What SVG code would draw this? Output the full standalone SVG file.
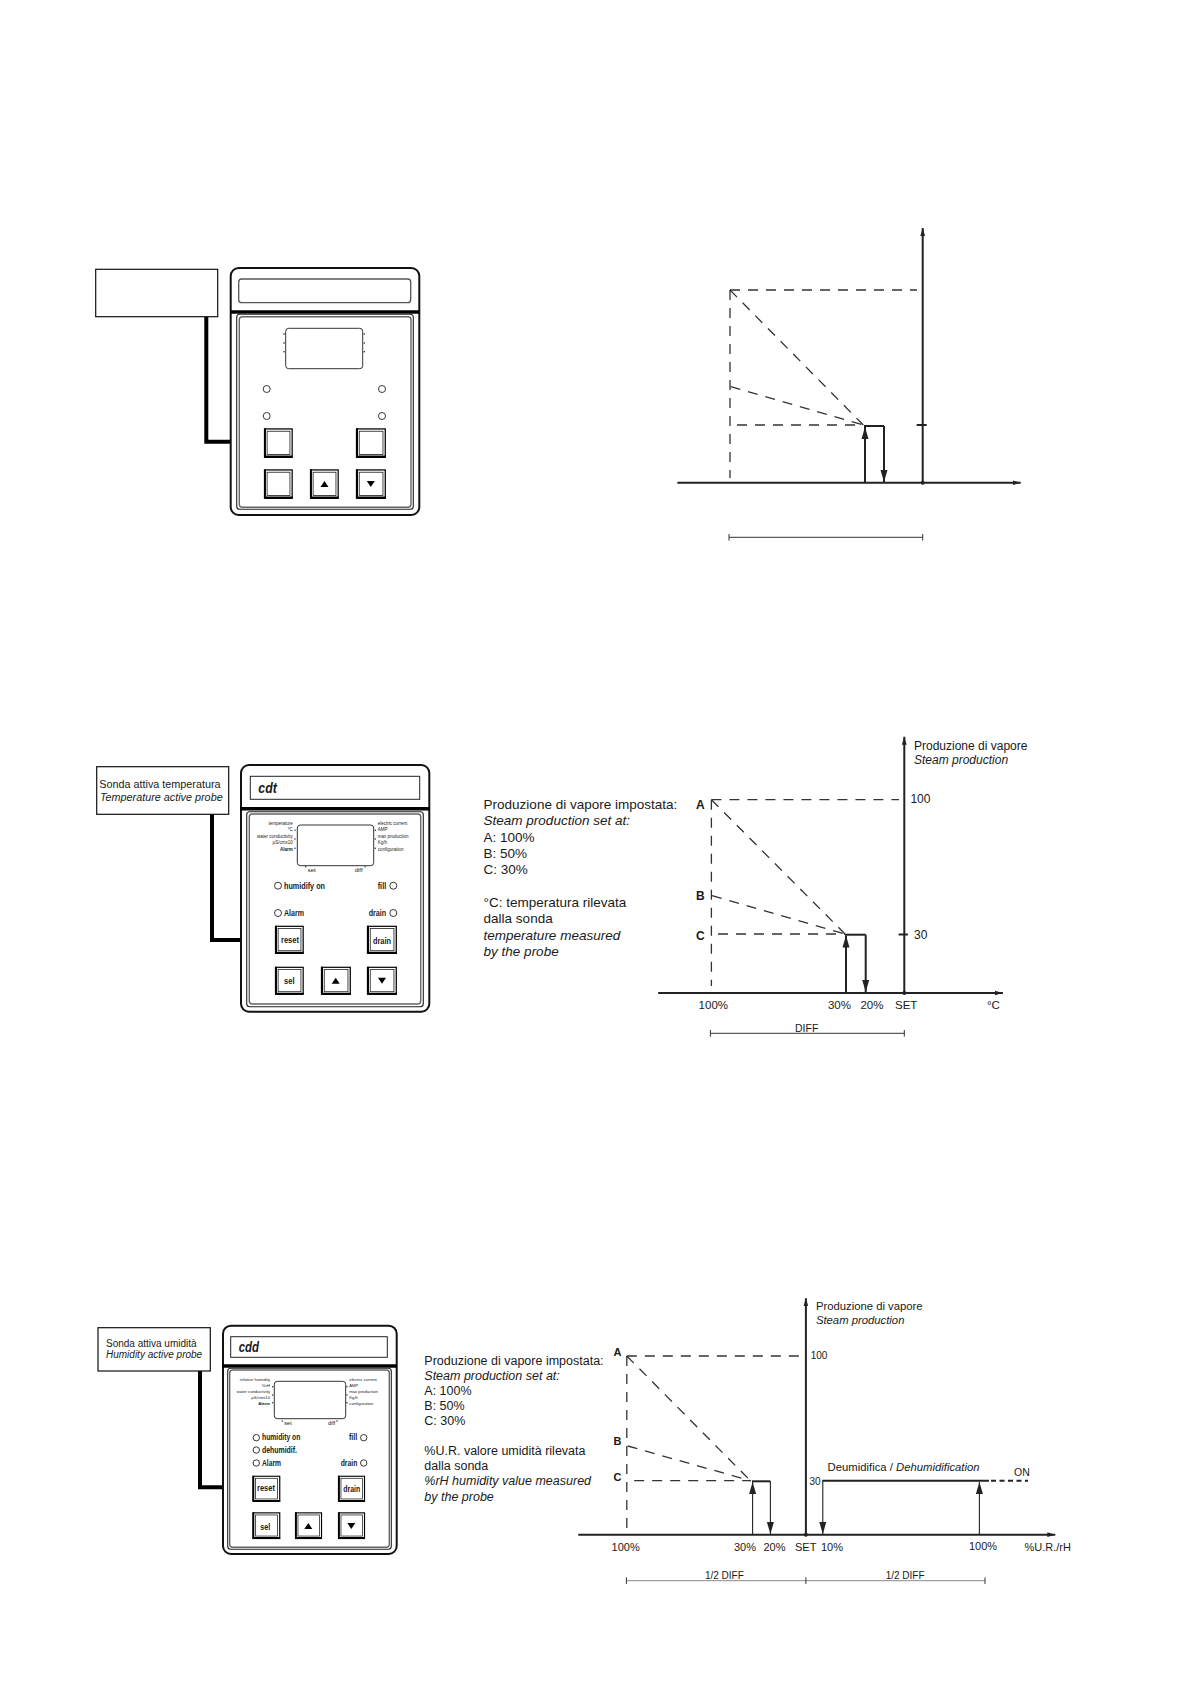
<svg xmlns="http://www.w3.org/2000/svg" xmlns:xlink="http://www.w3.org/1999/xlink" width="1190" height="1684" viewBox="0 0 1190 1684">
<style>
text{font-family:"Liberation Sans",Arial,sans-serif;fill:#1a1a1a}
.i{font-style:italic}
.b{font-weight:bold}
.box{fill:#fff;stroke:#111;stroke-width:1.2}
.cable{fill:none;stroke:#000;stroke-width:4}
.case{fill:#fff;stroke:#111;stroke-width:2}
.bar{stroke:#000;stroke-width:3.6}
.name{fill:#fff;stroke:#222;stroke-width:1}
.name1{fill:#fff;stroke:#555;stroke-width:1.3}
.p1{fill:none;stroke:#222;stroke-width:1.1}
.p2{fill:none;stroke:#666;stroke-width:1.4}
.disp{fill:#fff;stroke:#333;stroke-width:1}
.led{fill:#fff;stroke:#222;stroke-width:.9}
.dot{fill:#222}
.axis{fill:none;stroke:#222;stroke-width:2}
.solid{fill:none;stroke:#222;stroke-width:2}
.thin{fill:none;stroke:#222;stroke-width:1.1}
.dash{fill:none;stroke:#333;stroke-width:1.3;stroke-dasharray:10 8}
.dim{fill:none;stroke:#333;stroke-width:1}
.dimg{fill:none;stroke:#888;stroke-width:1}
.s2{font-size:4.5px}
.s3{font-size:4.2px}
.e{text-anchor:end}
.m{text-anchor:middle}
</style>
<defs>
<marker id="head" markerUnits="userSpaceOnUse" markerWidth="13" markerHeight="9" refX="12" refY="4.5" orient="auto"><path d="M0 1 L12 4.5 L0 8 Z" fill="#222"/></marker>
<marker id="ax" markerUnits="userSpaceOnUse" markerWidth="9" markerHeight="6" refX="8" refY="3" orient="auto"><path d="M0 .6 L8 3 L0 5.4 Z" fill="#222"/></marker>
<g id="btn"><rect x=".6" y=".6" width="27" height="27" fill="#fff" stroke="#000" stroke-width="1.2"/><rect x="2.8" y="2.8" width="22.6" height="22.2" fill="#fff" stroke="#222" stroke-width=".8"/><path d="M.6 0V28M0 27H28" fill="none" stroke="#000" stroke-width="2"/></g>
<path id="up" d="M-4 3 L0 -3 L4 3 Z" fill="#000"/>
<path id="dn" d="M-4 -3 L0 3 L4 -3 Z" fill="#000"/>
</defs>

<g id="connectors">
<path class="cable" d="M206.3 316.7V441.7H231"/>
<path class="cable" d="M212 814.3V940H241"/>
<path class="cable" d="M200 1371V1487.3H223"/>
</g>

<g id="probe-box-1"><rect class="box" x="95.7" y="269.3" width="122" height="47.4"/></g>

<g id="controller-1">
<rect class="case" x="230.7" y="268" width="188.6" height="247" rx="8"/>
<rect class="name1" x="238.7" y="279" width="172" height="23.7" rx="3"/>
<path class="bar" d="M230 312H420"/>
<rect class="p1" x="236.7" y="314.3" width="176.6" height="195" rx="3"/>
<rect class="p2" x="239.3" y="316.7" width="171.7" height="190.6" rx="3"/>
<rect class="disp" x="285.7" y="328.3" width="77" height="40.4" rx="3"/>
<g class="dot"><circle cx="284" cy="334" r=".8"/><circle cx="284" cy="343" r=".8"/><circle cx="284" cy="351.7" r=".8"/><circle cx="364.3" cy="334" r=".8"/><circle cx="364.3" cy="343" r=".8"/><circle cx="364.3" cy="351.7" r=".8"/></g>
<circle class="led" cx="266.7" cy="389" r="3.5"/><circle class="led" cx="382" cy="389" r="3.5"/><circle class="led" cx="266.7" cy="416" r="3.5"/><circle class="led" cx="382" cy="416" r="3.5"/>
<use xlink:href="#btn" transform="translate(264.3 428.3) scale(1.01 1.05)"/>
<use xlink:href="#btn" transform="translate(356.3 428.3) scale(1.05)"/>
<use xlink:href="#btn" transform="translate(264.3 469.3) scale(1.01 1.05)"/>
<use xlink:href="#btn" transform="translate(310.3 469.3) scale(1.01 1.05)"/>
<use xlink:href="#btn" transform="translate(356.3 469.3) scale(1.05)"/>
<use xlink:href="#up" x="324.5" y="484"/>
<use xlink:href="#dn" x="370.8" y="484"/>
</g>

<g id="chart-1">
<path class="axis" marker-end="url(#ax)" d="M677.3 482.7H1020.7"/>
<path class="axis" marker-end="url(#ax)" d="M922.7 482.7V228"/>
<circle class="dot" cx="922.7" cy="482.7" r="2"/>
<path class="solid" d="M916.7 425H926.7"/>
<path class="dash" d="M730 290H917"/>
<path class="dash" d="M730 290V478"/>
<path class="dash" d="M730 290L863.3 425"/>
<path class="dash" d="M730.7 386.7L863.3 425"/>
<path class="dash" d="M737 425H863"/>
<path class="solid" marker-end="url(#head)" d="M865 482.7V427"/>
<path class="solid" d="M864 426H884"/>
<path class="solid" marker-end="url(#head)" d="M884 426V482"/>
<path class="dim" d="M729 537.3H922.7M729 534V540.6M922.7 534V540.6"/>
</g>

<g id="probe-box-2">
<rect class="box" x="96.7" y="766.7" width="132" height="47.6"/>
<text x="99.3" y="787.7" font-size="10.8">Sonda attiva temperatura</text>
<text x="100" y="800.7" font-size="10.8" class="i">Temperature active probe</text>
</g>

<g id="controller-2">
<rect class="case" x="241" y="765" width="188.3" height="246.7" rx="8"/>
<rect class="name" x="250.3" y="776.3" width="169.4" height="23"/>
<text x="258.3" y="793" font-size="14" class="b i" textLength="18.5" lengthAdjust="spacingAndGlyphs">cdt</text>
<path class="bar" d="M240 808.7H430"/>
<rect class="p1" x="246.7" y="811.7" width="176.6" height="195" rx="3"/>
<rect class="p2" x="249.3" y="814" width="171.4" height="190" rx="3"/>
<rect class="disp" x="297.3" y="825" width="76.4" height="40.7" rx="3"/>
<g class="dot"><circle cx="295" cy="830.3" r=".7"/><circle cx="295" cy="839" r=".7"/><circle cx="295" cy="848.3" r=".7"/><circle cx="375.3" cy="830.3" r=".7"/><circle cx="375.3" cy="839" r=".7"/><circle cx="375.3" cy="848.3" r=".7"/><circle cx="305.7" cy="866.7" r=".7"/><circle cx="365" cy="866.7" r=".7"/></g>
<text class="s2 e" x="292.7" y="824.7">temperature</text>
<text class="s2 e" x="292.7" y="831">°C</text>
<text class="s2 e" x="292.7" y="837.7">water conductivity</text>
<text class="s2 e" x="292.7" y="844">µS/cmx10</text>
<text class="s2 e b" x="292.7" y="851">Alarm</text>
<text class="s2" x="377.7" y="824.7">electric current</text>
<text class="s2" x="377.7" y="831">AMP</text>
<text class="s2" x="377.7" y="837.7">max production</text>
<text class="s2" x="377.7" y="844">Kg/h</text>
<text class="s2" x="377.7" y="851">configuration</text>
<text x="307.7" y="871.7" font-size="6">set</text>
<text x="354.7" y="871.7" font-size="6">diff</text>
<circle class="led" cx="278" cy="885.7" r="3.5"/><circle class="led" cx="393.3" cy="885.7" r="3.5"/><circle class="led" cx="278" cy="913" r="3.5"/><circle class="led" cx="393.3" cy="913" r="3.5"/>
<text class="b" x="284" y="888.7" font-size="9" textLength="41" lengthAdjust="spacingAndGlyphs">humidify on</text>
<text class="b" x="377.7" y="888.7" font-size="9" textLength="8.5" lengthAdjust="spacingAndGlyphs">fill</text>
<text class="b" x="284" y="916" font-size="9" textLength="20" lengthAdjust="spacingAndGlyphs">Alarm</text>
<text class="b" x="368.7" y="916" font-size="9" textLength="17.5" lengthAdjust="spacingAndGlyphs">drain</text>
<use xlink:href="#btn" transform="translate(275.3 925.7) scale(1.01 1)"/>
<use xlink:href="#btn" transform="translate(367.3 925.7) scale(1.05 1)"/>
<use xlink:href="#btn" transform="translate(275.3 966.7) scale(1.01 1)"/>
<use xlink:href="#btn" transform="translate(321.3 966.7) scale(1.05 1)"/>
<use xlink:href="#btn" transform="translate(367.3 966.7) scale(1.05 1)"/>
<text class="b m" x="290" y="942.7" font-size="9" textLength="18" lengthAdjust="spacingAndGlyphs">reset</text>
<text class="b m" x="382" y="943.7" font-size="9" textLength="18" lengthAdjust="spacingAndGlyphs">drain</text>
<text class="b m" x="289.3" y="984" font-size="9" textLength="10.5" lengthAdjust="spacingAndGlyphs">sel</text>
<use xlink:href="#up" x="335.7" y="980.7"/>
<use xlink:href="#dn" x="382" y="980.7"/>
</g>

<g id="chart-2">
<path class="axis" marker-end="url(#ax)" d="M658.2 993H1002.9"/>
<path class="axis" marker-end="url(#ax)" d="M904.3 993V736.7"/>
<circle class="dot" cx="904.3" cy="993" r="2"/>
<path class="solid" d="M898.6 934.5H907.9"/>
<path class="dash" d="M711.4 799.7H899"/>
<path class="dash" d="M711.4 799.7V986"/>
<path class="dash" d="M711.4 799.7L845 934"/>
<path class="dash" d="M712 895.7L845 934"/>
<path class="dash" d="M718 934H845"/>
<path class="solid" marker-end="url(#head)" d="M846 993V935.5"/>
<path class="solid" d="M845 934.7H865.7"/>
<path class="solid" marker-end="url(#head)" d="M865.7 934.7V992"/>
<path class="dim" d="M710.4 1033.3H904.3M710.4 1030V1036.6M904.3 1030V1036.6"/>
<text x="914" y="750" font-size="12">Produzione di vapore</text>
<text x="914" y="764.3" font-size="12" class="i">Steam production</text>
<text x="910.4" y="803" font-size="12">100</text>
<text x="914" y="939" font-size="12">30</text>
<g font-size="13.5">
<text x="483.6" y="808.7">Produzione di vapore impostata:</text>
<text x="483.6" y="825" class="i">Steam production set at:</text>
<text x="483.6" y="841.7">A: 100%</text>
<text x="483.6" y="858">B: 50%</text>
<text x="483.6" y="874.3">C: 30%</text>
<text x="483.6" y="906.7">°C: temperatura rilevata</text>
<text x="483.6" y="923.3">dalla sonda</text>
<text x="483.6" y="939.7" class="i">temperature measured</text>
<text x="483.6" y="956" class="i">by the probe</text>
</g>
<g font-size="12" class="b">
<text x="696" y="809.3">A</text>
<text x="696" y="899.7">B</text>
<text x="696" y="939.7">C</text>
</g>
<g font-size="11.5">
<text x="698.6" y="1009.3">100%</text>
<text x="827.9" y="1009.3">30%</text>
<text x="860.4" y="1009.3">20%</text>
<text x="895" y="1009.3">SET</text>
<text x="987" y="1009.3">°C</text>
</g>
<text x="795" y="1031.7" font-size="10.5">DIFF</text>
</g>

<g id="probe-box-3">
<rect class="box" x="98" y="1327.7" width="112.3" height="43.3"/>
<text x="106" y="1346.7" font-size="10">Sonda attiva umidità</text>
<text x="106" y="1358.3" font-size="10" class="i">Humidity active probe</text>
</g>

<g id="controller-3">
<rect class="case" x="223" y="1325.7" width="173.7" height="228.3" rx="8"/>
<rect class="name" x="230.7" y="1336.7" width="156.6" height="20.6"/>
<text x="238.7" y="1352.3" font-size="14" class="b i" textLength="20.3" lengthAdjust="spacingAndGlyphs">cdd</text>
<path class="bar" d="M222 1366H397"/>
<rect class="p1" x="227.7" y="1368.3" width="163.6" height="181" rx="3"/>
<rect class="p2" x="229.7" y="1370" width="159.6" height="177.3" rx="3"/>
<rect class="disp" x="274.3" y="1381.3" width="71.4" height="37.4" rx="3"/>
<g class="dot"><circle cx="272.7" cy="1386.7" r=".7"/><circle cx="272.7" cy="1395" r=".7"/><circle cx="272.7" cy="1402.7" r=".7"/><circle cx="347" cy="1386.7" r=".7"/><circle cx="347" cy="1395" r=".7"/><circle cx="347" cy="1402.7" r=".7"/><circle cx="282.3" cy="1421" r=".7"/><circle cx="337" cy="1421" r=".7"/></g>
<text class="s3 e" x="270" y="1381">relative humidity</text>
<text class="s3 e" x="270" y="1387">%rH</text>
<text class="s3 e" x="270" y="1393">water conductivity</text>
<text class="s3 e" x="270" y="1398.7">µS/cmx10</text>
<text class="s3 e b" x="270" y="1405.3">Alarm</text>
<text class="s3" x="349.3" y="1381">electric current</text>
<text class="s3" x="349.3" y="1387">AMP</text>
<text class="s3" x="349.3" y="1393">max production</text>
<text class="s3" x="349.3" y="1398.7">Kg/h</text>
<text class="s3" x="349.3" y="1405.3">configuration</text>
<text x="284.3" y="1425.3" font-size="5.6">set</text>
<text x="328" y="1425.3" font-size="5.6">diff</text>
<circle class="led" cx="256.3" cy="1437.7" r="3.2"/><circle class="led" cx="256.3" cy="1450" r="3.2"/><circle class="led" cx="256.3" cy="1463" r="3.2"/><circle class="led" cx="363.7" cy="1437.7" r="3.2"/><circle class="led" cx="363.7" cy="1463" r="3.2"/>
<text class="b" x="262" y="1440.3" font-size="8.4" textLength="38.3" lengthAdjust="spacingAndGlyphs">humidity on</text>
<text class="b" x="262" y="1452.7" font-size="8.4" textLength="35" lengthAdjust="spacingAndGlyphs">dehumidif.</text>
<text class="b" x="262" y="1465.7" font-size="8.4" textLength="19" lengthAdjust="spacingAndGlyphs">Alarm</text>
<text class="b" x="349" y="1440.3" font-size="8.4" textLength="8.3" lengthAdjust="spacingAndGlyphs">fill</text>
<text class="b" x="340.7" y="1465.7" font-size="8.4" textLength="16.6" lengthAdjust="spacingAndGlyphs">drain</text>
<use xlink:href="#btn" transform="translate(252.7 1475.7) scale(.98 .93)"/>
<use xlink:href="#btn" transform="translate(338.3 1475.7) scale(.95 .93)"/>
<use xlink:href="#btn" transform="translate(252.7 1512.3) scale(.98 .95)"/>
<use xlink:href="#btn" transform="translate(295.3 1512.3) scale(.95)"/>
<use xlink:href="#btn" transform="translate(338.3 1512.3) scale(.95)"/>
<text class="b m" x="266" y="1490.7" font-size="8.4" textLength="18" lengthAdjust="spacingAndGlyphs">reset</text>
<text class="b m" x="351.7" y="1492" font-size="8.4" textLength="17" lengthAdjust="spacingAndGlyphs">drain</text>
<text class="b m" x="265.3" y="1530" font-size="8.4" textLength="10" lengthAdjust="spacingAndGlyphs">sel</text>
<use xlink:href="#up" x="308.3" y="1526"/>
<use xlink:href="#dn" x="351.3" y="1526"/>
</g>

<g id="chart-3">
<path class="axis" marker-end="url(#ax)" d="M578.3 1534.7H1055.3"/>
<path class="axis" marker-end="url(#ax)" d="M805.9 1534.7V1298.3"/>
<circle class="dot" cx="805.9" cy="1534.7" r="2"/>
<path class="dash" d="M626.8 1356H800.3"/>
<path class="dash" d="M626.8 1356V1528.3"/>
<path class="dash" d="M626.8 1356L750.4 1480.7"/>
<path class="dash" d="M627.7 1446L750.4 1480.7"/>
<path class="dash" d="M634.2 1480.7H751"/>
<path class="thin" marker-end="url(#head)" d="M752.6 1534.7V1482"/>
<path class="solid" d="M752 1481.3H770.4"/>
<path class="thin" marker-end="url(#head)" d="M770.4 1481.3V1534"/>
<path class="solid" d="M822.3 1480.7H989"/>
<path class="solid" stroke-dasharray="5 3.5" d="M991 1480.7H1028"/>
<path class="thin" marker-end="url(#head)" d="M822.8 1480.7V1534"/>
<path class="thin" marker-end="url(#head)" d="M979.4 1534.7V1482"/>
<path class="dimg" d="M626.4 1580.7H985"/>
<path class="dim" d="M626.4 1577.4V1584M805.9 1577.4V1584M985 1577.4V1584"/>
<text x="815.9" y="1310.3" font-size="11.3">Produzione di vapore</text>
<text x="815.9" y="1324" font-size="11.3" class="i">Steam production</text>
<text x="810.7" y="1358.7" font-size="10">100</text>
<text x="809.4" y="1485" font-size="10">30</text>
<g font-size="12.5">
<text x="424.3" y="1364.7">Produzione di vapore impostata:</text>
<text x="424.3" y="1379.7" class="i">Steam production set at:</text>
<text x="424.3" y="1395">A: 100%</text>
<text x="424.3" y="1410">B: 50%</text>
<text x="424.3" y="1425">C: 30%</text>
<text x="424.3" y="1455.3">%U.R. valore umidità rilevata</text>
<text x="424.3" y="1470.3">dalla sonda</text>
<text x="424.3" y="1485.3" class="i">%rH humidity value measured</text>
<text x="424.3" y="1500.7" class="i">by the probe</text>
</g>
<g font-size="11" class="b">
<text x="613.4" y="1356.3">A</text>
<text x="613.4" y="1445">B</text>
<text x="613.4" y="1481">C</text>
</g>
<g font-size="11">
<text x="611.6" y="1551">100%</text>
<text x="734" y="1551">30%</text>
<text x="763.4" y="1551">20%</text>
<text x="795" y="1551">SET</text>
<text x="821" y="1551">10%</text>
<text x="969" y="1550.3">100%</text>
<text x="1024.5" y="1551">%U.R./rH</text>
</g>
<text x="704.9" y="1579" font-size="10">1/2 DIFF</text>
<text x="885.7" y="1579" font-size="10">1/2 DIFF</text>
<text x="827.6" y="1470.7" font-size="11.3">Deumidifica / <tspan class="i">Dehumidification</tspan></text>
<text x="1014" y="1476" font-size="10.5">ON</text>
</g>
</svg>
